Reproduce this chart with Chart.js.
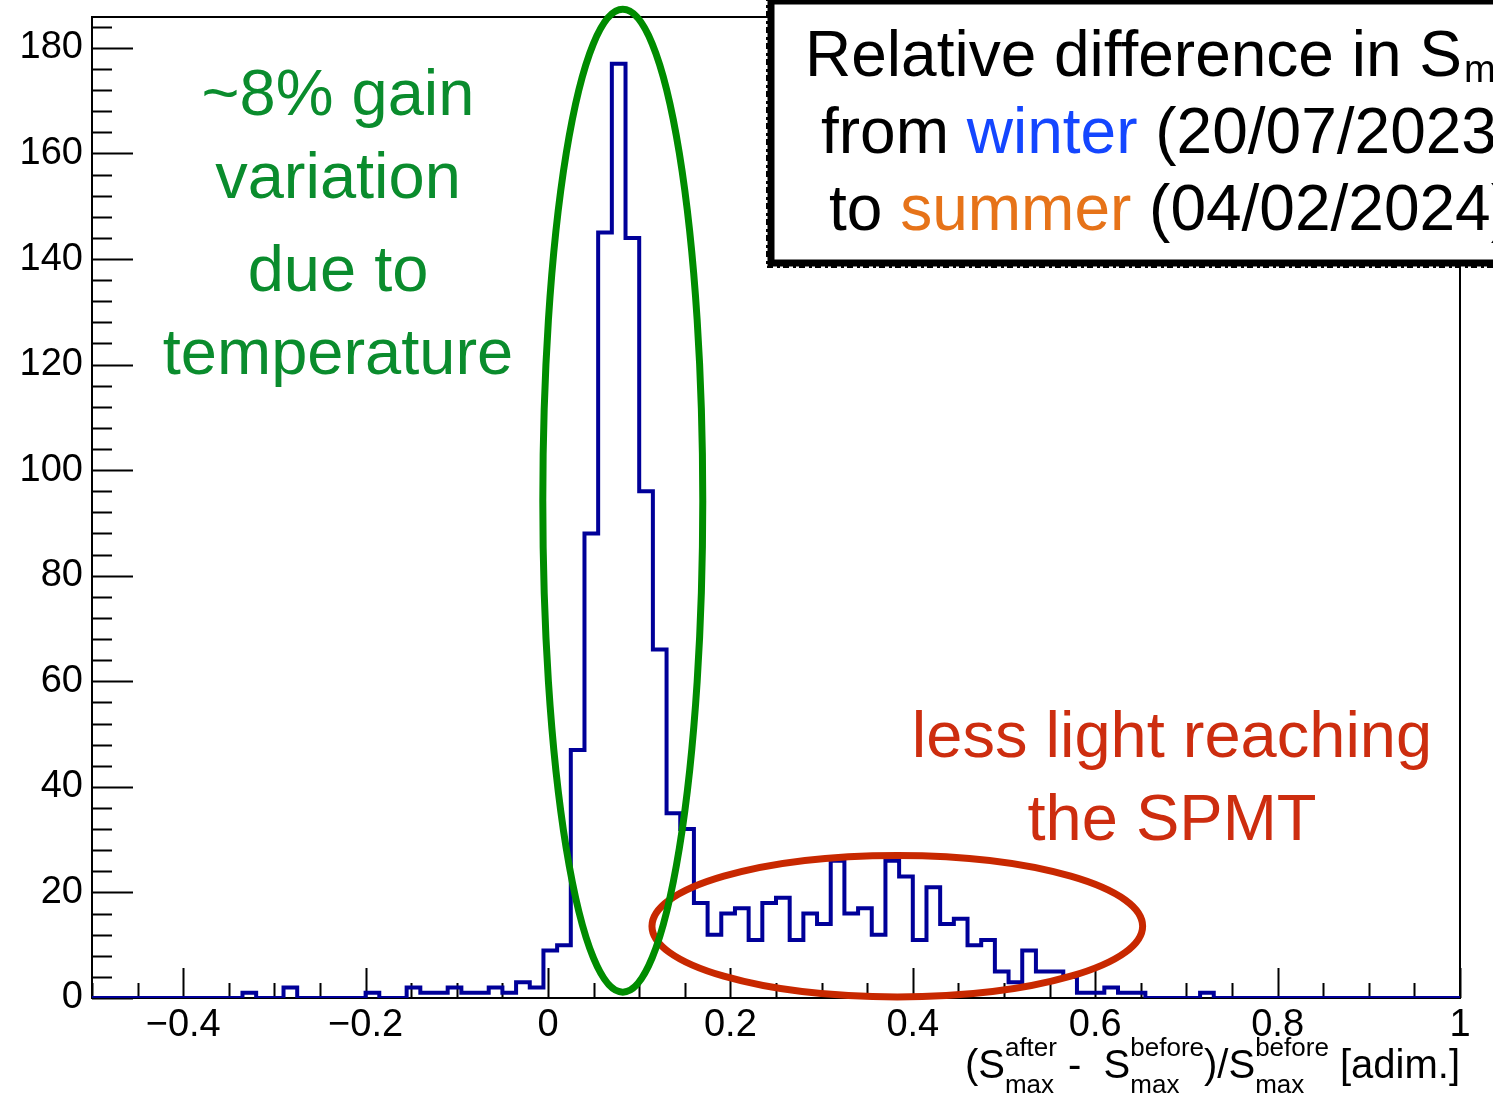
<!DOCTYPE html>
<html>
<head>
<meta charset="utf-8">
<script src="https://cdn.jsdelivr.net/npm/chart.js@4.4.1/dist/chart.umd.min.js"></script>
<style>
  html, body { margin: 0; padding: 0; background: #fff; }
  #wrap { width: 1493px; height: 1098px; position: relative; overflow: hidden; }
</style>
</head>
<body>
<div id="wrap"><canvas id="hist" width="1493" height="1098"></canvas></div>
<script>
// binning of the relative Smax difference
const X_MIN = -0.5;
const X_MAX = 1.0;
const BIN_WIDTH = 0.015;
const Y_MAX = 185.85;

// entries per bin (100 bins from -0.5 to 1)
const binCounts = [
  0, 0, 0, 0, 0, 0, 0, 0, 0, 0,
  0, 1, 0, 0, 2, 0, 0, 0, 0, 0,
  1, 0, 0, 2, 1, 1, 2, 1, 1, 2,
  1, 3, 2, 9, 10, 47, 88, 145, 177, 144,
  96, 66, 35, 32, 18, 12, 16, 17, 11, 18,
  19, 11, 16, 14, 26, 16, 17, 12, 26, 23,
  11, 21, 14, 15, 10, 11, 5, 3, 9, 5,
  5, 4, 1, 1, 2, 1, 1, 0, 0, 0,
  0, 1, 0, 0, 0, 0, 0, 0, 0, 0,
  0, 0, 0, 0, 0, 0, 0, 0, 0, 0
];

const xMajorTicks = [-0.4, -0.2, 0, 0.2, 0.4, 0.6, 0.8, 1];
const xTickLabels = ["\u22120.4", "\u22120.2", "0", "0.2", "0.4", "0.6", "0.8", "1"];
const xMinorStep = 0.05;
const yMajorTicks = [0, 20, 40, 60, 80, 100, 120, 140, 160, 180];
const yTickLabels = ["0", "20", "40", "60", "80", "100", "120", "140", "160", "180"];
const yMinorStep = 4;

const FONT = "'Liberation Sans', Arial, Helvetica, sans-serif";
const HIST_COLOR = "rgb(0,0,153)";
const GREEN = "rgb(0,140,0)";
const GREEN_TEXT = "rgb(10,140,45)";
const RED = "rgb(200,40,0)";
const RED_TEXT = "rgb(205,45,15)";

// step outline: one point per bin lower edge, closed at X_MAX
const histPoints = binCounts.map((c, i) => ({ x: X_MIN + i * BIN_WIDTH, y: c }));
histPoints.push({ x: X_MAX, y: binCounts[binCounts.length - 1] });

// frame plus inward ROOT-style tick marks
const frameTicks = {
  id: "frameTicks",
  beforeDatasetsDraw(chart) {
    const { ctx, chartArea: a, scales: { x, y } } = chart;
    ctx.save();
    ctx.strokeStyle = "#000";
    ctx.lineWidth = 2;
    ctx.strokeRect(a.left, a.top, a.right - a.left, a.bottom - a.top);

    ctx.beginPath();
    for (let v = 0; v <= Y_MAX + 1e-9; v += yMinorStep) {
      const py = Math.round(y.getPixelForValue(v)) + 0.5;
      const len = (v % 20 === 0) ? 41 : 20;
      ctx.moveTo(a.left, py);
      ctx.lineTo(a.left + len, py);
    }
    const n = Math.round((X_MAX - X_MIN) / xMinorStep);
    for (let i = 0; i <= n; i++) {
      const v = X_MIN + i * xMinorStep;
      const px = Math.round(x.getPixelForValue(v)) + 0.5;
      const major = Math.abs(v * 5 - Math.round(v * 5)) < 1e-6;
      ctx.moveTo(px, a.bottom);
      ctx.lineTo(px, a.bottom - (major ? 30 : 15));
    }
    ctx.stroke();
    ctx.restore();
  }
};

// one line of text made of coloured pieces, with optional sub/superscripts
function drawRuns(ctx, runs, x0, baseline, size) {
  let x = x0;
  runs.forEach(r => {
    if (r.sup !== undefined || r.sub !== undefined) {
      const s = Math.round(size * 0.66);
      ctx.font = s + "px " + FONT;
      ctx.fillStyle = r.color || "#000";
      let w = 0;
      if (r.sup) { ctx.fillText(r.sup, x, baseline - size * 0.55); w = Math.max(w, ctx.measureText(r.sup).width); }
      if (r.sub) { ctx.fillText(r.sub, x, baseline + size * 0.37); w = Math.max(w, ctx.measureText(r.sub).width); }
      x += w;
    } else {
      ctx.font = size + "px " + FONT;
      ctx.fillStyle = r.color || "#000";
      ctx.fillText(r.text, x, baseline);
      x += ctx.measureText(r.text).width;
    }
  });
  return x - x0;
}

function measureRuns(ctx, runs, size) {
  let w = 0;
  runs.forEach(r => {
    if (r.sup !== undefined || r.sub !== undefined) {
      ctx.font = Math.round(size * 0.66) + "px " + FONT;
      w += Math.max(r.sup ? ctx.measureText(r.sup).width : 0, r.sub ? ctx.measureText(r.sub).width : 0);
    } else {
      ctx.font = size + "px " + FONT;
      w += ctx.measureText(r.text).width;
    }
  });
  return w;
}

const annotations = {
  id: "annotations",
  afterDraw(chart) {
    const { ctx, chartArea: a, scales: { x, y } } = chart;
    ctx.save();

    // x axis title
    const titleRuns = [
      { text: "(S" }, { sup: "after", sub: "max" }, { text: " -  S" },
      { sup: "before", sub: "max" }, { text: ")/S" }, { sup: "before", sub: "max" },
      { text: " [adim.]" }
    ];
    ctx.textAlign = "left";
    ctx.textBaseline = "alphabetic";
    const tw = measureRuns(ctx, titleRuns, 40);
    drawRuns(ctx, titleRuns, a.right - tw, 1078, 40);

    // ellipses around the two populations
    ctx.lineWidth = 7;
    ctx.strokeStyle = RED;
    ctx.beginPath();
    ctx.ellipse(x.getPixelForValue(0.383), y.getPixelForValue(13.6),
      x.getPixelForValue(0.383 + 0.269) - x.getPixelForValue(0.383),
      y.getPixelForValue(0) - y.getPixelForValue(13.4), 0, 0, Math.PI * 2);
    ctx.stroke();
    ctx.strokeStyle = GREEN;
    ctx.beginPath();
    ctx.ellipse(x.getPixelForValue(0.082), y.getPixelForValue(94.2),
      x.getPixelForValue(0.082 + 0.0877) - x.getPixelForValue(0.082),
      y.getPixelForValue(0) - y.getPixelForValue(93.1), 0, 0, Math.PI * 2);
    ctx.stroke();

    // annotation texts
    ctx.textAlign = "center";
    ctx.font = "65px " + FONT;
    ctx.fillStyle = GREEN_TEXT;
    ctx.fillText("~8% gain", 338, 115);
    ctx.fillText("variation", 338, 198);
    ctx.fillText("due to", 338, 291);
    ctx.fillText("temperature", 338, 374);
    ctx.fillStyle = RED_TEXT;
    ctx.fillText("less light reaching", 1172, 757);
    ctx.fillText("the SPMT", 1172, 840);

    // title box in the top right corner
    ctx.fillStyle = "#fff";
    ctx.fillRect(770, 0, 760, 263);
    ctx.strokeStyle = "#000";
    ctx.lineWidth = 7;
    ctx.strokeRect(771, 1, 760, 262);
    ctx.lineWidth = 2;
    ctx.setLineDash([3, 4, 6, 3]);
    ctx.strokeRect(767, -2, 768, 269);
    ctx.setLineDash([]);

    ctx.textAlign = "left";
    const line1 = "Relative difference in S";
    drawRuns(ctx, [{ text: line1 }], 805, 76, 64);
    ctx.font = "64px " + FONT;
    const sW = ctx.measureText(line1).width;
    ctx.font = "38px " + FONT;
    ctx.fillStyle = "#000";
    ctx.fillText("max", 807 + sW, 82);
    drawRuns(ctx, [{ text: "from " }, { text: "winter", color: "rgb(20,70,255)" }, { text: " (20/07/2023)" }], 821, 153, 64);
    drawRuns(ctx, [{ text: "to " }, { text: "summer", color: "rgb(230,115,25)" }, { text: " (04/02/2024)" }], 829, 230, 64);

    ctx.restore();
  }
};

new Chart(document.getElementById("hist"), {
  type: "line",
  data: {
    datasets: [{
      data: histPoints,
      stepped: "before",
      borderColor: HIST_COLOR,
      borderWidth: 4,
      pointRadius: 0,
      fill: false,
      tension: 0
    }]
  },
  options: {
    responsive: false,
    animation: false,
    devicePixelRatio: 1,
    layout: { padding: { left: 0, right: 33, top: 17, bottom: 0 } },
    plugins: { legend: { display: false }, tooltip: { enabled: false } },
    scales: {
      x: {
        type: "linear",
        min: X_MIN,
        max: X_MAX,
        border: { display: false },
        grid: { display: false, drawTicks: false },
        afterFit(scale) {
          scale.height = 100;
          scale.paddingLeft = 0;
          scale.paddingRight = 0;
        },
        afterBuildTicks(scale) { scale.ticks = xMajorTicks.map(v => ({ value: v })); },
        ticks: {
          autoSkip: false,
          maxRotation: 0,
          padding: 5,
          color: "#000",
          font: { family: FONT, size: 38 },
          callback: (v, i) => xTickLabels[i]
        }
      },
      y: {
        min: 0,
        max: Y_MAX,
        border: { display: false },
        grid: { display: false, drawTicks: false },
        afterFit(scale) {
          scale.width = 92;
          scale.paddingTop = 0;
          scale.paddingBottom = 0;
        },
        afterBuildTicks(scale) { scale.ticks = yMajorTicks.map(v => ({ value: v })); },
        ticks: {
          padding: 9,
          color: "#000",
          font: { family: FONT, size: 38 },
          callback: (v, i) => yTickLabels[i]
        }
      }
    }
  },
  plugins: [frameTicks, annotations]
});
</script>
</body>
</html>
